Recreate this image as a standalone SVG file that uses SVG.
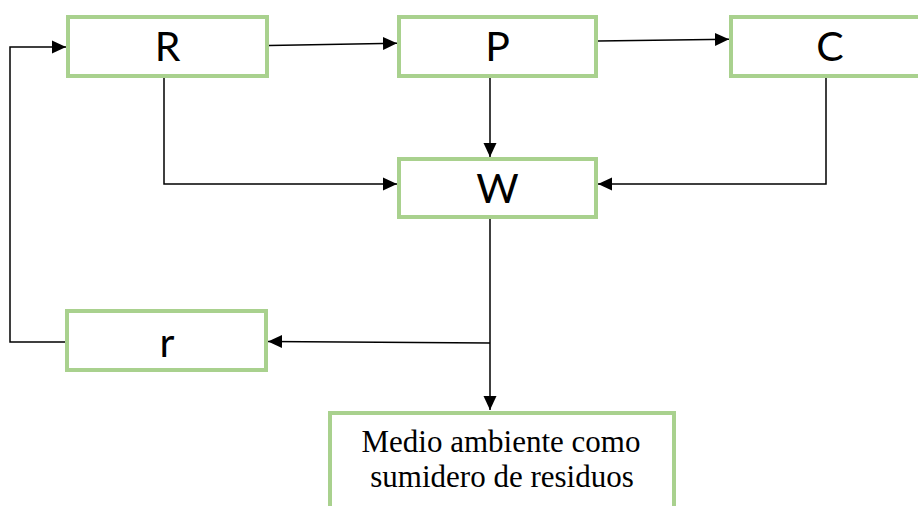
<svg xmlns="http://www.w3.org/2000/svg" width="918" height="506" viewBox="0 0 918 506">
<style>
.box{fill:#fff;stroke:#a9d18e;stroke-width:4}
.lbl{font-family:Lato,"Open Sans",sans-serif;font-size:41px;fill:#000;text-anchor:middle}
.ser{font-family:"Liberation Serif","Times New Roman",serif;font-size:31px;fill:#000;text-anchor:middle}
.ln{fill:none;stroke:#000;stroke-width:1.5}
</style>
<defs>
<marker id="ah" markerUnits="userSpaceOnUse" markerWidth="14" markerHeight="14" refX="14" refY="7" orient="auto">
<path d="M0,0.5 L14,7 L0,13.5 z" fill="#000"/>
</marker>
</defs>
<rect width="918" height="506" fill="#fff"/>
<g id="connectors">
<polyline class="ln" points="66,342 10,342 10,47 66,47" marker-end="url(#ah)"/>
<line class="ln" x1="269" y1="45.5" x2="397" y2="43.3" marker-end="url(#ah)"/>
<line class="ln" x1="598" y1="41" x2="729" y2="39.3" marker-end="url(#ah)"/>
<polyline class="ln" points="164,77 164,184 397,184" marker-end="url(#ah)"/>
<line class="ln" x1="490" y1="77" x2="490" y2="157" marker-end="url(#ah)"/>
<polyline class="ln" points="826,77 826,184 598,184" marker-end="url(#ah)"/>
<line class="ln" x1="490" y1="219" x2="490" y2="410" marker-end="url(#ah)"/>
<line class="ln" x1="490" y1="343" x2="268" y2="341.5" marker-end="url(#ah)"/>
</g>
<g id="node-R"><rect class="box" x="68" y="17" width="199" height="59"/><text class="lbl" x="167.5" y="61">R</text></g>
<g id="node-P"><rect class="box" x="399" y="17" width="197" height="59"/><text class="lbl" x="497.5" y="61">P</text></g>
<g id="node-C"><rect class="box" x="731" y="17" width="199" height="59"/><text class="lbl" x="830" y="61">C</text></g>
<g id="node-W"><rect class="box" x="399" y="159" width="197" height="58"/><text class="lbl" x="497.5" y="203">W</text></g>
<g id="node-r"><rect class="box" x="67" y="311" width="199" height="59"/><text class="lbl" x="167" y="357">r</text></g>
<g id="node-medio"><rect class="box" x="330" y="413" width="344" height="120"/><text class="ser" x="501" y="452">Medio ambiente como</text><text class="ser" x="502" y="487">sumidero de residuos</text></g>
</svg>
